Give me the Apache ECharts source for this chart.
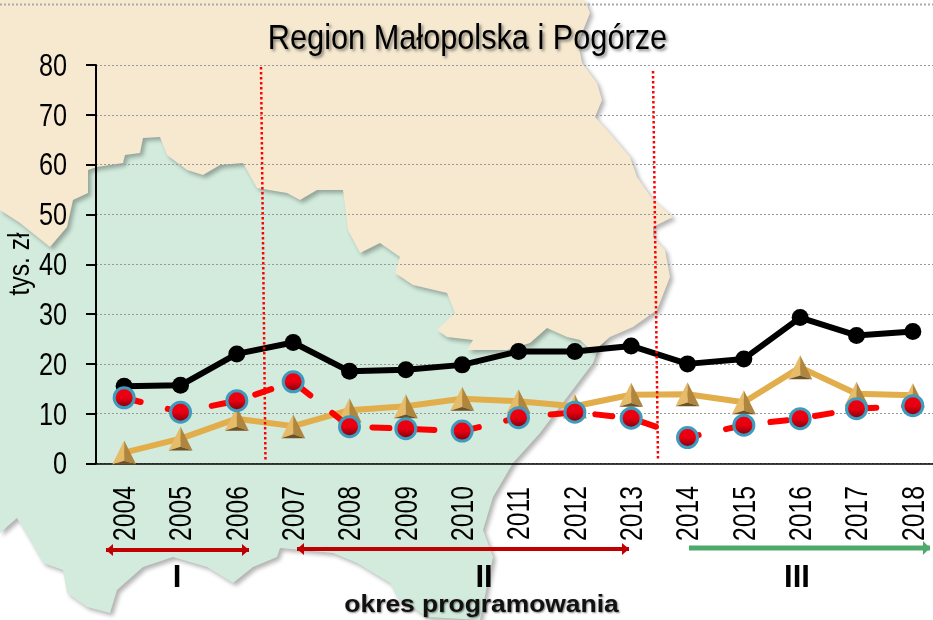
<!DOCTYPE html>
<html>
<head>
<meta charset="utf-8">
<style>html,body{margin:0;padding:0;background:#fff}#main{width:933px;height:620px}</style>
<script src="https://cdn.jsdelivr.net/npm/echarts@6/dist/echarts.min.js"></script>
</head>
<body>
<div id="main"></div>
<script>
var years = ['2004','2005','2006','2007','2008','2009','2010','2011','2012','2013','2014','2015','2016','2017','2018'];
var yTicks = [0,10,20,30,40,50,60,70,80];
var blackValues = [15.5,15.7,22,24.3,18.5,18.8,19.8,22.5,22.5,23.6,20,21,29.3,25.7,26.5];
var goldValues = [2.2,5,9,7.5,10.7,11.5,13,12.5,11.5,13.8,13.9,12.3,19.3,14,13.7];
var redValues = [13.2,10.3,12.6,16.4,7.4,7,6.5,9.2,10.3,9.1,5.2,7.7,9,11,11.6];

// map behind the chart
var beigeShape = [[0,0],[585,0],[590,13],[578,43],[582,63],[597,83],[602,100],[595,117],[607,130],[630,157],[637,177],[653,200],[673,217],[653,227],[653,237],[665,250],[670,277],[657,310],[633,327],[610,337],[593,352],[580,340],[567,337],[547,328],[530,343],[507,350],[467,350],[473,340],[447,337],[437,330],[455,313],[447,293],[413,285],[395,273],[400,257],[380,243],[360,253],[348,230],[343,190],[333,190],[317,190],[300,200],[287,193],[257,188],[243,163],[220,165],[203,175],[187,170],[167,155],[160,137],[143,138],[140,153],[125,155],[123,163],[97,167],[88,170],[88,193],[73,200],[67,227],[50,247],[20,223],[0,210]];
var greenShape = [[0,100],[560,100],[605,330],[593,363],[540,433],[513,463],[493,497],[483,530],[493,557],[480,620],[427,617],[397,597],[390,583],[357,563],[333,553],[280,548],[277,557],[253,567],[233,583],[207,567],[173,557],[143,567],[117,590],[110,613],[87,607],[67,593],[63,570],[43,563],[30,540],[17,518],[0,533]];

var chart = echarts.init(document.getElementById('main'));

var sans = '"Liberation Sans"';

function arrow(x1, x2, y, color, both, w) {
    var h = w + 2;
    var out = [{
        type: 'rect', z: 50,
        shape: { x: x1, y: y - w / 2, width: x2 - x1, height: w },
        style: { fill: color }
    }, {
        type: 'polygon', z: 50,
        shape: { points: [[x2 - 7, y - h], [x2, y], [x2 - 7, y + h]] },
        style: { fill: color }
    }];
    if (both) {
        out.push({
            type: 'polygon', z: 50,
            shape: { points: [[x1 + 7, y - h], [x1, y], [x1 + 7, y + h]] },
            style: { fill: color }
        });
    }
    return out;
}

function romanText(str, x) {
    return {
        type: 'text', z: 50, x: x, y: 578,
        style: { text: str, fill: '#000', font: 'bold 31px ' + sans, align: 'center', verticalAlign: 'middle' }
    };
}

var elements = [
    {
        type: 'polygon', z: -10,
        shape: { points: greenShape },
        style: { fill: '#d2ebdc', shadowBlur: 4, shadowColor: 'rgba(0,0,0,0.3)', shadowOffsetX: 3, shadowOffsetY: 3 }
    },
    {
        type: 'polygon', z: -9,
        shape: { points: beigeShape },
        style: { fill: '#f6e9d0', shadowBlur: 4, shadowColor: 'rgba(0,0,0,0.3)', shadowOffsetX: 3, shadowOffsetY: 3 }
    },
    {
        type: 'line', z: -8,
        shape: { x1: 0, y1: 4.5, x2: 933, y2: 4.5 },
        style: { stroke: '#aaa', lineWidth: 2, lineDash: [2, 2] }
    },
    {
        type: 'line', z: 40,
        shape: { x1: 261, y1: 67, x2: 265.5, y2: 461 },
        style: { stroke: '#ff0000', lineWidth: 2.5, lineDash: [2.5, 2.5] }
    },
    {
        type: 'line', z: 40,
        shape: { x1: 653, y1: 71, x2: 658, y2: 461 },
        style: { stroke: '#ff0000', lineWidth: 2.5, lineDash: [2.5, 2.5] }
    },
    {
        type: 'text', z: 50, x: 467.5, y: 39, scaleX: 0.877,
        style: {
            text: 'Region Małopolska i Pogórze', fill: '#000', font: '35px ' + sans,
            align: 'center', verticalAlign: 'middle',
            textShadowBlur: 3, textShadowColor: 'rgba(0,0,0,0.45)', textShadowOffsetX: 2, textShadowOffsetY: 2
        }
    },
    {
        type: 'text', z: 50, x: 21, y: 264, rotation: Math.PI / 2, scaleX: 0.82,
        style: { text: 'tys. zł', fill: '#000', font: '30px ' + sans, align: 'center', verticalAlign: 'middle' }
    },
    romanText('I', 177),
    romanText('II', 484),
    romanText('III', 797),
    {
        type: 'text', z: 50, x: 481.5, y: 605, scaleX: 1.1,
        style: {
            text: 'okres programowania', fill: '#111', font: 'bold 24px ' + sans,
            align: 'center', verticalAlign: 'middle',
            textShadowBlur: 2, textShadowColor: 'rgba(0,0,0,0.5)', textShadowOffsetX: 1, textShadowOffsetY: 1
        }
    }
].concat(arrow(106, 249, 550, '#c00000', true, 4))
 .concat(arrow(297, 629, 549, '#c00000', true, 4))
 .concat(arrow(689, 930, 548, '#4eaa6b', false, 5));

function renderPyramid(params, api) {
    var p = api.coord([api.value(0), api.value(1)]);
    var x = p[0], y = p[1], r = 12;
    var apex = [x, y - r], mid = [x, y + r * 0.68], bl = [x - r, y + r], br = [x + r, y + r];
    return {
        type: 'group',
        children: [
            { type: 'polygon', shape: { points: [apex, mid, bl] }, style: { fill: '#e6bc6a' } },
            { type: 'polygon', shape: { points: [apex, mid, br] }, style: { fill: '#b0863f' } },
            { type: 'polygon', shape: { points: [bl, mid, br] }, style: { fill: '#6e5226' } }
        ]
    };
}

// tick labels are squeezed horizontally, the picture uses a narrow font
function renderYearLabel(params, api) {
    var p = api.coord([api.value(0), 0]);
    return {
        type: 'text', x: p[0] + 2, y: p[1] + 50, rotation: Math.PI / 2, scaleX: 0.77,
        style: { text: years[params.dataIndex], fill: '#000', font: '32px ' + sans, align: 'center', verticalAlign: 'middle' }
    };
}

function renderTickLabel(params, api) {
    var p = api.coord([0, api.value(1)]);
    return {
        type: 'text', x: params.coordSys.x - 29, y: p[1] + 2, scaleX: 0.79,
        style: { text: String(api.value(1)), fill: '#000', font: '32px ' + sans, align: 'right', verticalAlign: 'middle' }
    };
}

var option = {
    animation: false,
    backgroundColor: '#fff',
    grid: { left: 96, top: 65, width: 845, height: 398.5, outerBoundsMode: 'none' },
    xAxis: {
        type: 'category',
        data: years,
        boundaryGap: true,
        axisLine: { lineStyle: { color: '#000', width: 1.5 } },
        axisTick: { length: 10, lineStyle: { color: '#000', width: 1.5 } },
        axisLabel: { show: false }
    },
    yAxis: {
        type: 'value',
        min: 0,
        max: 80,
        interval: 10,
        axisLine: { show: true, lineStyle: { color: '#000', width: 2 } },
        axisTick: { show: true, length: 10, lineStyle: { color: '#000', width: 2 } },
        axisLabel: { show: false },
        splitLine: { lineStyle: { color: '#999', type: [2, 2], width: 1 } }
    },
    series: [
        {
            name: 'black', type: 'line', data: blackValues, z: 3,
            symbol: 'circle', symbolSize: 17,
            lineStyle: { color: '#000', width: 6 },
            itemStyle: { color: '#000' }
        },
        {
            name: 'gold', type: 'line', data: goldValues, z: 4, symbol: 'none',
            lineStyle: { color: '#e2ad4b', width: 6 }
        },
        {
            name: 'goldMarks', type: 'custom', z: 5,
            data: goldValues.map(function (v, i) { return [i, v]; }),
            renderItem: renderPyramid
        },
        {
            name: 'red', type: 'line', data: redValues, z: 6,
            symbol: 'circle', symbolSize: 20,
            lineStyle: { color: '#ff0000', width: 6, type: [17, 28], cap: 'round' },
            itemStyle: {
                color: {
                    type: 'linear', x: 0, y: 0, x2: 0, y2: 1,
                    colorStops: [{ offset: 0, color: '#f00010' }, { offset: 0.5, color: '#e80010' }, { offset: 1, color: '#6a000f' }]
                },
                borderColor: '#3d9cbd',
                borderWidth: 3
            }
        },
        {
            name: 'yearLabels', type: 'custom', silent: true, z: 7,
            data: years.map(function (y, i) { return [i, 0]; }),
            renderItem: renderYearLabel
        },
        {
            name: 'tickLabels', type: 'custom', silent: true, z: 7,
            data: yTicks.map(function (t) { return [0, t]; }),
            renderItem: renderTickLabel
        }
    ],
    graphic: { elements: elements }
};

chart.setOption(option);
</script>
</body>
</html>
